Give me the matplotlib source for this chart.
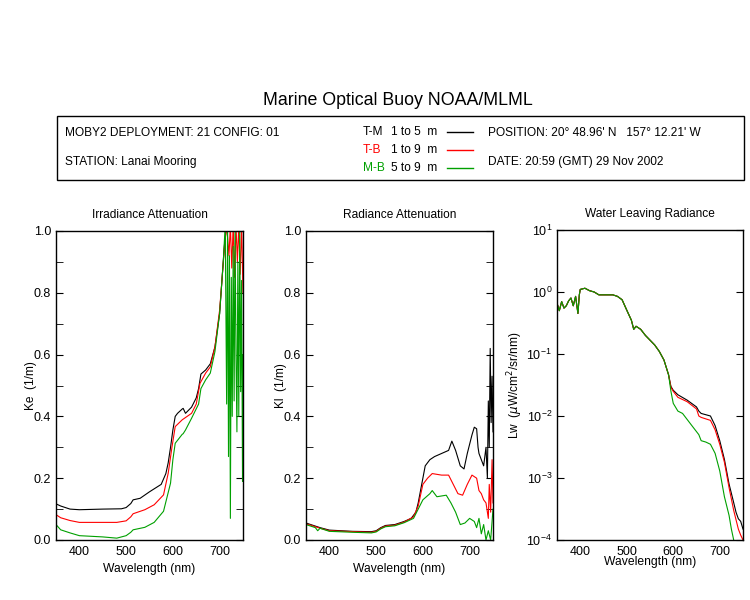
import numpy as np
import matplotlib
matplotlib.use("Agg")
import matplotlib.pyplot as plt
from matplotlib.patches import Rectangle
from matplotlib.lines import Line2D
from matplotlib.ticker import MultipleLocator, LogLocator

plt.rcParams['font.family'] = ['Liberation Sans', 'DejaVu Sans']

# Irradiance attenuation Ke (1/m)
ke_tm_wl = [350, 360, 380, 400, 450, 490, 500, 510, 515, 530, 550, 575, 585, 590, 595, 600, 605, 610, 620, 622,
            627, 640, 650, 655, 660, 670, 680, 690, 700, 710, 715]
ke_tm = [0.117, 0.110, 0.100, 0.098, 0.100, 0.101, 0.105, 0.118, 0.130, 0.135, 0.156, 0.180, 0.215, 0.250, 0.30,
         0.356, 0.400, 0.410, 0.424, 0.426, 0.410, 0.430, 0.460, 0.490, 0.537, 0.550, 0.570, 0.625, 0.733, 0.950, 1.02]
ke_tb_wl = [350, 360, 380, 400, 450, 480, 500, 510, 515, 540, 560, 580, 590, 598, 605, 620, 640, 650, 658, 670,
            680, 690, 700, 710, 715, 720, 723, 726, 729, 732, 735, 738, 741, 744, 747, 750]
ke_tb = [0.082, 0.072, 0.063, 0.057, 0.057, 0.057, 0.062, 0.075, 0.085, 0.098, 0.114, 0.146, 0.216, 0.300, 0.367,
         0.389, 0.410, 0.440, 0.507, 0.540, 0.560, 0.625, 0.744, 0.940, 1.02, 0.92, 1.02, 0.88, 1.02, 0.85, 1.02,
         0.90, 1.02, 0.86, 1.02, 0.80]
ke_mb_wl = [350, 360, 380, 400, 450, 480, 500, 510, 515, 540, 560, 580, 595, 600, 605, 620, 622, 627, 640, 655,
            660, 670, 680, 690, 700, 708, 712, 715, 717, 719, 721, 723, 725, 727, 729, 731, 733, 735, 737, 739,
            741, 743, 745, 747, 749, 750]
ke_mb = [0.050, 0.033, 0.023, 0.014, 0.010, 0.006, 0.014, 0.025, 0.033, 0.041, 0.057, 0.093, 0.184, 0.260, 0.313,
         0.342, 0.344, 0.356, 0.394, 0.440, 0.490, 0.518, 0.540, 0.610, 0.733, 0.905, 1.02, 0.44, 1.02, 0.27, 0.92,
         0.07, 0.85, 0.40, 0.95, 0.45, 1.02, 0.60, 0.35, 0.90, 0.40, 1.02, 0.48, 0.84, 0.19, 0.60]

# Radiance attenuation Kl (1/m)
kl_tm_wl = [350, 360, 370, 380, 400, 450, 490, 500, 510, 520, 540, 560, 575, 585, 590, 600, 605, 615, 625, 640,
            655, 662, 670, 680, 688, 695, 705, 710, 715, 718, 720, 725, 730, 735, 738, 740, 742, 744, 746, 748, 750]
kl_tm = [0.055, 0.050, 0.045, 0.040, 0.032, 0.028, 0.027, 0.030, 0.040, 0.047, 0.050, 0.060, 0.070, 0.090, 0.120,
         0.200, 0.240, 0.260, 0.270, 0.280, 0.290, 0.320, 0.290, 0.240, 0.230, 0.280, 0.340, 0.365, 0.360, 0.300,
         0.280, 0.260, 0.240, 0.300, 0.200, 0.450, 0.300, 0.620, 0.380, 0.530, 0.350]
kl_tb_wl = [350, 360, 370, 380, 400, 450, 490, 500, 510, 520, 540, 560, 580, 590, 600, 610, 620, 640, 655, 660,
            675, 685, 695, 705, 715, 720, 725, 730, 735, 740, 742, 745, 748, 750]
kl_tb = [0.052, 0.048, 0.043, 0.038, 0.030, 0.027, 0.025, 0.028, 0.038, 0.045, 0.048, 0.058, 0.075, 0.110, 0.180,
         0.200, 0.215, 0.210, 0.210, 0.195, 0.150, 0.145, 0.180, 0.210, 0.200, 0.160, 0.150, 0.130, 0.120, 0.070,
         0.180, 0.090, 0.260, 0.120]
kl_mb_wl = [350, 360, 370, 375, 380, 400, 450, 490, 500, 510, 520, 540, 560, 580, 590, 600, 615, 620, 630, 650,
            660, 670, 680, 690, 700, 710, 715, 720, 725, 730, 735, 740, 745, 750]
kl_mb = [0.050, 0.045, 0.040, 0.030, 0.038, 0.028, 0.025, 0.023, 0.026, 0.036, 0.043, 0.046, 0.056, 0.070, 0.100,
         0.130, 0.150, 0.160, 0.140, 0.145, 0.120, 0.090, 0.050, 0.055, 0.070, 0.060, 0.040, 0.070, 0.020, 0.050,
         0.000, 0.030, 0.000, 0.100]

# Water leaving radiance Lw (uW/cm^2/sr/nm)
lw_wl = [350, 355, 360, 365, 370, 375, 380, 385, 390, 395, 398, 400, 410, 420, 430, 440, 460, 470, 480, 490, 500,
         510, 515, 520, 530, 540, 560, 570, 580, 590]
lw_top = [0.66, 0.50, 0.70, 0.55, 0.60, 0.72, 0.80, 0.60, 0.85, 0.45, 0.90, 1.10, 1.15, 1.05, 1.00, 0.90, 0.90,
          0.90, 0.85, 0.75, 0.51, 0.35, 0.25, 0.28, 0.25, 0.20, 0.14, 0.11, 0.08, 0.046]
lw_tm_wl = [595, 600, 610, 630, 650, 655, 660, 680, 690, 700, 710, 720, 730, 735, 740, 745, 750]
lw_tm = [0.030, 0.026, 0.022, 0.018, 0.014, 0.012, 0.011, 0.010, 0.007, 0.004, 0.002, 0.0008, 0.0004, 0.00028,
         0.00022, 0.0002, 0.00015]
lw_tb_wl = [595, 600, 610, 630, 650, 655, 660, 680, 690, 700, 710, 720, 730, 740, 745, 750]
lw_tb = [0.029, 0.025, 0.020, 0.017, 0.013, 0.010, 0.0095, 0.0085, 0.006, 0.0035, 0.0018, 0.0007, 0.0003, 0.00015,
         0.00012, 0.0001]
lw_mb_wl = [595, 600, 610, 620, 640, 655, 660, 670, 680, 690, 700, 710, 720, 725, 730]
lw_mb = [0.025, 0.016, 0.012, 0.011, 0.007, 0.005, 0.004, 0.0038, 0.0035, 0.0025, 0.0013, 0.0005, 0.00025,
         0.00015, 0.0001]

GREEN = '#00a000'
RED = '#ff0000'

fig = plt.figure(figsize=(7.5, 6), dpi=100)

fig.text(0.531, 0.833, "Marine Optical Buoy NOAA/MLML", ha='center', va='center', fontsize=12.8)

# header box
fig.patches.append(Rectangle((57 / 750, 1 - 180 / 600), 687 / 750, 64 / 600, transform=fig.transFigure,
                             fill=False, edgecolor='black', linewidth=1))
fs = 8.6
fig.text(65 / 750, 1 - 133 / 600, "MOBY2 DEPLOYMENT: 21 CONFIG: 01", va='center', fontsize=fs)
fig.text(65 / 750, 1 - 162 / 600, "STATION: Lanai Mooring", va='center', fontsize=fs)
fig.text(488 / 750, 1 - 133 / 600, "POSITION: 20° 48.96' N   157° 12.21' W", va='center', fontsize=fs)
fig.text(488 / 750, 1 - 162 / 600, "DATE: 20:59 (GMT) 29 Nov 2002", va='center', fontsize=fs)
for name, depth, col, ypx in [("T-M", "1 to 5  m", 'black', 132), ("T-B", "1 to 9  m", RED, 150),
                              ("M-B", "5 to 9  m", GREEN, 168)]:
    fig.text(363 / 750, 1 - ypx / 600, name, va='center', fontsize=fs, color=col)
    fig.text(391 / 750, 1 - ypx / 600, depth, va='center', fontsize=fs)
    fig.lines.append(Line2D([447 / 750, 473 / 750], [1 - ypx / 600, 1 - ypx / 600], transform=fig.transFigure,
                            color=col, linewidth=1))

ax1 = fig.add_axes([56 / 750, 0.1, 187 / 750, 309 / 600])
ax2 = fig.add_axes([306 / 750, 0.1, 187 / 750, 309 / 600])
ax3 = fig.add_axes([557 / 750, 0.1, 186 / 750, 310 / 600])

lw = 0.8
ax1.plot(ke_tm_wl, ke_tm, color='black', lw=lw)
ax1.plot(ke_tb_wl, ke_tb, color=RED, lw=lw)
ax1.plot(ke_mb_wl, ke_mb, color=GREEN, lw=lw)
ax2.plot(kl_tm_wl, kl_tm, color='black', lw=lw)
ax2.plot(kl_tb_wl, kl_tb, color=RED, lw=lw)
ax2.plot(kl_mb_wl, kl_mb, color=GREEN, lw=lw)
ax3.plot(lw_wl + lw_tm_wl, lw_top + lw_tm, color='black', lw=lw)
ax3.plot(lw_wl + lw_tb_wl, lw_top + lw_tb, color=RED, lw=lw)
ax3.plot(lw_wl + lw_mb_wl, lw_top + lw_mb, color=GREEN, lw=lw)

for ax, title, ylab in [(ax1, "Irradiance Attenuation", "Ke  (1/m)"), (ax2, "Radiance Attenuation", "Kl  (1/m)")]:
    ax.set_xlim(350, 750)
    ax.set_ylim(0, 1)
    ax.yaxis.set_major_locator(MultipleLocator(0.2))
    ax.yaxis.set_minor_locator(MultipleLocator(0.1))
    ax.yaxis.set_major_formatter(plt.FormatStrFormatter('%.1f'))
    ax.set_title(title, fontsize=8.6, pad=9)
    ax.set_ylabel(ylab, fontsize=8.6, labelpad=-2)

ax3.set_yscale('log')
ax3.set_xlim(350, 750)
ax3.set_ylim(1e-4, 1e1)
ax3.yaxis.set_major_locator(LogLocator(base=10, numticks=10))
ax3.yaxis.set_minor_locator(plt.NullLocator())
ax3.set_title("Water Leaving Radiance", fontsize=8.6, pad=9)
ax3.set_ylabel("Lw  ($\\mu$W/cm$^2$/sr/nm)", fontsize=8.6, labelpad=1)

for ax in (ax1, ax2, ax3):
    ax.xaxis.set_major_locator(MultipleLocator(100))
    ax.tick_params(axis='y', which='both', direction='in', left=True, right=True, labelsize=9)
    ax.tick_params(axis='y', which='major', length=5)
    ax.tick_params(axis='y', which='minor', length=5)
    ax.tick_params(axis='x', length=0, labelsize=9, pad=4)
    for sp in ax.spines.values():
        sp.set_linewidth(1)
ax1.set_xlabel("Wavelength (nm)", fontsize=8.7, labelpad=4)
ax2.set_xlabel("Wavelength (nm)", fontsize=8.7, labelpad=4)
ax3.set_xlabel("Wavelength (nm)", fontsize=8.7, labelpad=-1)

fig.savefig("out.png", dpi=100)
